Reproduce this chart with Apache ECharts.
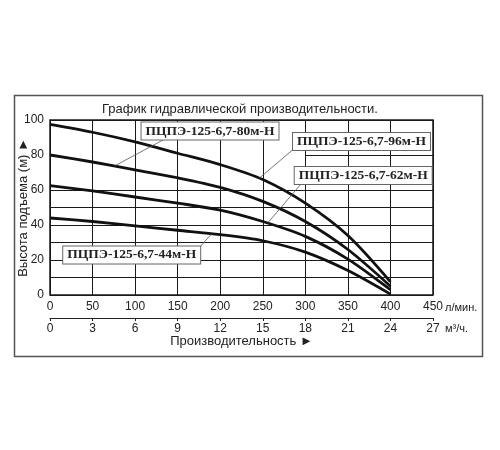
<!DOCTYPE html>
<html><head><meta charset="utf-8">
<script src="https://cdn.jsdelivr.net/npm/echarts@6/dist/echarts.min.js"></script>
<style>html,body{margin:0;padding:0;background:#fff}#c{width:500px;height:450px}</style>
</head><body><div id="c"></div>
<script>
// Flow, l/min
const flowLmin = [0, 50, 100, 150, 200, 250, 300, 350, 400];
// Head, m
const head96 = [97.5, 93, 87.5, 81, 74.5, 66, 52.5, 34, 7.5];
const head80 = [80, 76, 71.5, 67, 61.5, 53.5, 42, 26, 5];
const head62 = [62.5, 59.5, 56, 52.5, 48.5, 42, 33.5, 20.5, 3];
const head44 = [44, 42, 39.5, 37, 34.5, 31, 24.5, 14, 0.5];
const pumpNames = ['ПЦПЭ-125-6,7-96м-Н', 'ПЦПЭ-125-6,7-80м-Н', 'ПЦПЭ-125-6,7-62м-Н', 'ПЦПЭ-125-6,7-44м-Н'];
const xTicksLmin = [0, 50, 100, 150, 200, 250, 300, 350, 400, 450];
const xTicksM3h = [0, 3, 6, 9, 12, 15, 18, 21, 24, 27];
const yTicks = [0, 20, 40, 60, 80, 100];

// annotation anchors (data units): label centre, leader start, leader end
const labelAnchors = [
  { box: [366, 87.7], from: [285, 82.9], to: [246, 66.8] },
  { box: [188, 93.7], from: [133, 88.6], to: [76, 73.8] },
  { box: [368, 68.3], from: [294, 62.9], to: [256, 41.3] },
  { box: [96, 22.9], from: [176, 27.4], to: [190, 35.0] }
];

const heads = [head96, head80, head62, head44];
const sans = 'Liberation Sans, Arial, sans-serif';
const serif = 'Liberation Serif, Times New Roman, serif';

const gridColors = [];
for (let v = 0; v <= 100; v += 10) gridColors.push((v === 70 || v === 80 || v === 90) ? 'rgba(0,0,0,0)' : '#1a1a1a');

const series = heads.map((h, i) => {
  const a = labelAnchors[i];
  const mlData = [[{ coord: a.from }, { coord: a.to }]];
  if (i === 0) {
    mlData.push([{ coord: [300, 80], lineStyle: { color: '#1a1a1a', width: 1 } }, { coord: [450, 80] }]);
  }
  return {
    type: 'line',
    name: pumpNames[i],
    data: flowLmin.map((x, k) => [x, h[k]]),
    symbol: 'none',
    smooth: 0.3,
    lineStyle: { color: '#111', width: 2.8 },
    z: 3,
    markLine: {
      silent: true, symbol: ['none', 'none'], animation: false,
      label: { show: false },
      lineStyle: { color: '#555', width: 0.8, type: 'solid' },
      data: mlData
    },
    markPoint: {
      silent: true, symbol: 'rect', symbolSize: 0, animation: false,
      label: {
        show: true, position: 'inside', formatter: pumpNames[i],
        backgroundColor: '#fff', borderColor: '#666', borderWidth: 1,
        padding: [2, 4, 1, 4], fontFamily: serif, fontWeight: 'bold',
        fontSize: 13.5, color: '#222'
      },
      data: [{ coord: a.box }]
    }
  };
});

const chart = echarts.init(document.getElementById('c'));
chart.setOption({
  animation: false,
  backgroundColor: '#fff',
  title: {
    text: 'График гидравлической производительности.',
    left: 97, top: 98,
    textStyle: { fontSize: 13, fontWeight: 'normal', color: '#222', fontFamily: sans }
  },
  graphic: [{
    type: 'rect', left: 12, top: 93,
    shape: { width: 468, height: 261 },
    style: { fill: 'none', stroke: '#555', lineWidth: 1.5 }, z: -1
  }],
  grid: { left: 50, right: 67, top: 120, bottom: 155, outerBoundsMode: 'none', containLabel: false, show: true, borderColor: '#1a1a1a', borderWidth: 1.5, backgroundColor: 'rgba(0,0,0,0)' },
  xAxis: [{
    type: 'value', min: xTicksLmin[0], max: xTicksLmin[xTicksLmin.length - 1], interval: xTicksLmin[1] - xTicksLmin[0],
    position: 'bottom',
    axisLine: { show: false }, axisTick: { show: false },
    axisLabel: { margin: 6, fontSize: 12, color: '#222', fontFamily: sans },
    splitLine: { show: true, lineStyle: { color: '#1a1a1a', width: 1 } },
    name: 'л/мин.', nameLocation: 'end', nameGap: 12, nameMoveOverlap: false,
    nameTextStyle: { fontSize: 11, color: '#222', fontFamily: sans, verticalAlign: 'top', padding: [7, 0, 0, 0] }
  }, {
    type: 'value', min: xTicksM3h[0], max: xTicksM3h[xTicksM3h.length - 1], interval: xTicksM3h[1] - xTicksM3h[0],
    position: 'bottom', offset: 23,
    axisLine: { show: true, onZero: false, lineStyle: { color: '#222', width: 1 } },
    axisTick: { show: true, length: 3, lineStyle: { color: '#222' } },
    axisLabel: { margin: 5, fontSize: 12, color: '#222', fontFamily: sans },
    splitLine: { show: false },
    name: 'Производительность ►', nameLocation: 'middle', nameGap: 17, nameMoveOverlap: false,
    nameTextStyle: { fontSize: 13, color: '#222', fontFamily: sans }
  }, {
    type: 'value', min: xTicksM3h[0], max: xTicksM3h[xTicksM3h.length - 1],
    position: 'bottom', offset: 23,
    axisLine: { show: false }, axisTick: { show: false }, axisLabel: { show: false }, splitLine: { show: false },
    name: 'м³/ч.', nameLocation: 'end', nameGap: 12, nameMoveOverlap: false,
    nameTextStyle: { fontSize: 11, color: '#222', fontFamily: sans, verticalAlign: 'top', padding: [5, 0, 0, 0] }
  }],
  yAxis: {
    type: 'value', min: 0, max: 100, interval: 10,
    axisLine: { show: false }, axisTick: { show: false },
    axisLabel: {
      margin: 6, fontSize: 12, color: '#222', fontFamily: sans,
      formatter: v => (yTicks.indexOf(v) >= 0 ? String(v) : '')
    },
    splitLine: { show: true, lineStyle: { color: gridColors, width: 1 } },
    name: 'Высота подъема (м) ►', nameLocation: 'middle', nameRotate: 90, nameGap: 20, nameMoveOverlap: false,
    nameTextStyle: { fontSize: 13, color: '#222', fontFamily: sans }
  },
  series: series
});
</script></body></html>
